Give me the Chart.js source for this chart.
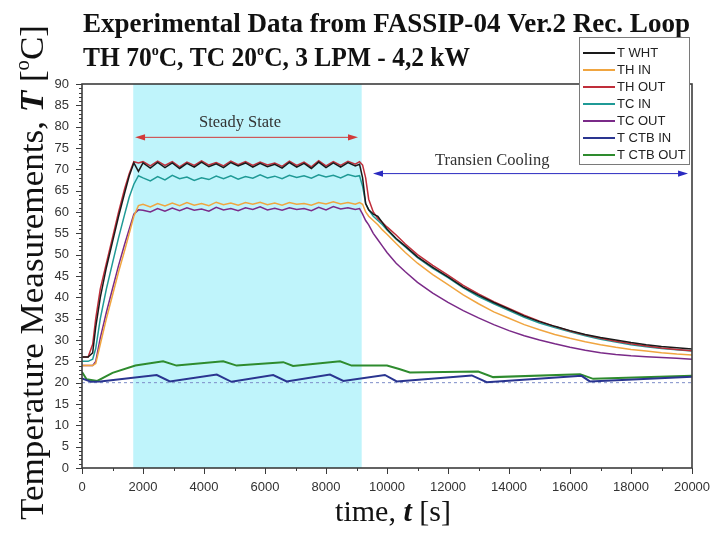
<!DOCTYPE html>
<html><head><meta charset="utf-8">
<script src="https://cdn.jsdelivr.net/npm/chart.js@4.4.0/dist/chart.umd.min.js"></script>
<style>html,body{margin:0;padding:0;background:#fff;}canvas{display:block;}</style>
</head><body>
<canvas id="c" width="712" height="535"></canvas>
<script>
// ---- data ----
const seriesNames = ['T WHT','TH IN','TH OUT','TC IN','TC OUT','T CTB IN','T CTB OUT'];
const tMain = [0,200,350,450,600,800,1000,1200,1400,1550,1700,1850,
  2000,2240,2480,2720,2960,3200,3440,3680,3920,4160,4400,4640,4880,5120,5360,5600,5840,6080,6320,6560,6800,7040,7280,7520,7760,8000,8240,8480,8720,8960,
  9100,9200,9300,9400,9550,9700,9850,10000,10300,10600,11000,11500,12000,12500,13000,13500,14000,14500,15000,15500,16000,16500,17000,17500,18000,18500,19000,19500,20000];
const tWht = [26,26,27,33,40,47,53,59,64.5,68.5,71.5,69.5,
  71.5,70.3,71.6,70.4,71.5,70.2,71.4,70.5,71.7,70.6,71.3,70.4,71.6,70.8,71.5,70.5,71.4,70.6,71.2,70.3,71.6,70.5,71.4,70.2,71.7,70.4,71.5,70.5,71.6,70.8,
  71.2,68,62,60.5,59.5,59,57.5,56,53.8,52,49.5,47,44.8,42.4,40.5,38.8,37.2,35.6,34.3,33.2,32.2,31.3,30.6,30,29.4,28.9,28.5,28.2,27.9];
const thIn = [24,24,24,24.5,29,35,40.5,46,51,55,59,61.5,
  61.8,61.2,62.0,61.4,62.1,61.5,62.2,61.6,62.0,61.5,62.3,61.7,62.1,61.6,62.2,61.8,62.3,61.7,62.1,61.6,62.2,61.8,62.0,61.6,62.2,61.9,62.4,61.9,62.2,61.8,
  62.2,61.8,60,59,58,57,55.8,54.8,52.6,50.5,48,45.3,43,40.6,38.5,36.6,35.1,33.6,32.4,31.3,30.4,29.6,28.9,28.3,27.8,27.4,27,26.7,26.5];
const thOut = [26,26,29,35,42,48,54,60,65.5,69,71.8,71.5,
  71.8,70.8,71.9,70.9,71.8,70.6,71.7,70.9,72.0,71.0,71.6,70.8,71.9,71.1,71.8,70.9,71.7,71.0,71.5,70.7,71.9,70.9,71.7,70.6,72.0,70.8,71.8,70.9,71.9,71.2,
  71.8,71,68,63,60,58.5,57.5,56.5,54.6,52.5,50,47.5,45.2,42.8,40.8,39,37.4,35.8,34.4,33.2,32.1,31.2,30.4,29.7,29.1,28.6,28.1,27.8,27.5];
const tcIn = [25,25,25.5,28,35,42,48,54,59.5,63.5,66.5,68.5,
  68.0,67.3,68.3,67.5,68.6,67.8,68.2,67.4,68.0,67.6,68.4,67.8,68.5,67.7,68.3,67.9,68.7,68.0,68.4,67.8,68.6,68.1,68.5,67.9,68.7,68.2,68.6,68.0,68.8,68.3,
  68.5,66,62,60.5,59,58,57,55.8,53.6,51.8,49.3,46.8,44.6,42.2,40.2,38.5,36.9,35.3,34,32.9,31.9,31,30.2,29.5,28.9,28.4,28,27.7,27.4];
const tcOut = [24,24,24,25,30.5,36.5,42,47.5,52.5,56,59.5,60.5,
  60.4,60.0,60.8,60.2,60.9,60.3,61.0,60.4,60.7,60.2,61.1,60.5,60.8,60.3,61.0,60.6,61.2,60.5,60.9,60.4,61.0,60.6,60.8,60.3,61.1,60.5,61.3,60.7,61.0,60.6,
  60.8,59.5,58,57,55,53.5,52,50.5,48,46,43.5,41,38.8,36.9,35.2,33.6,32.2,31,30,29.1,28.3,27.6,27,26.6,26.3,26.1,25.9,25.7,25.5];
const tCtbIn = [0,300,600,2450,2880,4420,4900,6270,6710,8130,8570,9930,10320,12780,13270,16380,16650,20000];
const ctbIn  = [21.0,20.2,20.3,21.8,20.3,21.9,20.2,21.8,20.3,21.9,20.4,21.8,20.3,21.7,20.1,21.6,20.3,21.4];
const tCtbOut = [0,150,500,1000,1750,2660,3100,4630,5070,6600,6920,8460,8840,10000,10400,10750,12990,13480,16330,16760,20000];
const ctbOut  = [22.5,20.8,20.4,22.3,24.0,25.0,24.0,25.0,24.0,24.8,23.9,25.0,24.0,24.0,23.2,22.4,22.6,21.3,22.0,20.9,21.6];
const steadyRange = [1680, 9170];     // shaded steady-state band (s)
const refLine = 20;                   // dashed reference temperature
const steadyArrow = [1740, 9050, 77.5];
const coolingArrow = [9540, 19870, 69];
const xTickStep = 2000, yTickStep = 5;

// ---- styles ----
const colors = ['#1a1a1a','#f0a540','#c02e3a','#1f9a96','#7a2a88','#2a3590','#2e8b2e'];
const pts = (xs, ys) => xs.map((x,i)=>({x:x, y:ys[i]}));
const dataSets = [
  pts(tMain,tWht), pts(tMain,thIn), pts(tMain,thOut), pts(tMain,tcIn), pts(tMain,tcOut),
  pts(tCtbIn,ctbIn), pts(tCtbOut,ctbOut)
];

const X = (c,v)=>c.scales.x.getPixelForValue(v);
const Y = (c,v)=>c.scales.y.getPixelForValue(v);
function seg(ctx,x1,y1,x2,y2){ctx.beginPath();ctx.moveTo(x1,y1);ctx.lineTo(x2,y2);ctx.stroke();}
function rich(ctx, parts){ let w=0; parts.forEach(p=>{ctx.font=p[1]; w+=ctx.measureText(p[0]).width;}); return w; }
function drawRich(ctx, parts, x, y, sx){
  ctx.save(); ctx.translate(x,y); ctx.scale(sx||1,1);
  let cx=0; parts.forEach(p=>{ctx.font=p[1]; ctx.fillText(p[0], cx, p[2]||0); cx+=ctx.measureText(p[0]).width;});
  ctx.restore();
}
function dblArrow(ctx,x1,x2,y,col){
  ctx.strokeStyle=col; ctx.fillStyle=col; ctx.lineWidth=1;
  seg(ctx,x1+4,y,x2-4,y);
  ctx.beginPath(); ctx.moveTo(x1,y); ctx.lineTo(x1+10,y-3.2); ctx.lineTo(x1+10,y+3.2); ctx.closePath(); ctx.fill();
  ctx.beginPath(); ctx.moveTo(x2,y); ctx.lineTo(x2-10,y-3.2); ctx.lineTo(x2-10,y+3.2); ctx.closePath(); ctx.fill();
}

const bgPlugin = {
  id:'bg',
  beforeDatasetsDraw(c){
    const ctx=c.ctx, a=c.chartArea;
    ctx.save();
    ctx.fillStyle='#bff4fb';
    const x1=X(c,steadyRange[0]), x2=X(c,steadyRange[1]);
    ctx.fillRect(x1,a.top,x2-x1,a.bottom-a.top);
    ctx.strokeStyle='#7d8cc8'; ctx.lineWidth=1; ctx.setLineDash([3,3]);
    const y=Y(c,refLine); seg(ctx,a.left,y,a.right,y);
    ctx.restore();
  }
};

const SERIF='"Liberation Serif","Times New Roman",serif';
const SANS='"Liberation Sans",Arial,sans-serif';
const overlay = {
  id:'overlay',
  afterDraw(c){
    const ctx=c.ctx, a=c.chartArea, sy=c.scales.y, sxs=c.scales.x;
    ctx.save();
    // ticks
    ctx.strokeStyle='#3a3a3a'; ctx.lineWidth=1;
    for(let v=sy.min; v<=sy.max; v++){ const y=Math.round(Y(c,v))+0.5; const L=(v%yTickStep===0)?6:3; seg(ctx,a.left-L,y,a.left,y); }
    for(let t=sxs.min; t<=sxs.max; t+=xTickStep/2){ const x=Math.round(X(c,t))+0.5; const L=(t%xTickStep===0)?6:3; seg(ctx,x,a.bottom,x,a.bottom+L); }
    // frame
    ctx.strokeStyle='#3c3c3c'; ctx.lineWidth=1.6;
    ctx.strokeRect(a.left,a.top,a.right-a.left,a.bottom-a.top);
    // annotations
    const ys=Y(c,steadyArrow[2]);
    dblArrow(ctx,X(c,steadyArrow[0]),X(c,steadyArrow[1]),ys,'#d23a3a');
    const yc=Y(c,coolingArrow[2]);
    dblArrow(ctx,X(c,coolingArrow[0]),X(c,coolingArrow[1]),yc,'#2a2ac0');
    ctx.fillStyle='#333'; ctx.textBaseline='alphabetic';
    ctx.font='16.5px '+SERIF; ctx.textAlign='center';
    ctx.fillText('Steady State', 240, 127);
    ctx.textAlign='left';
    ctx.fillText('Transien Cooling', 435, 165);
    // titles
    ctx.fillStyle='#111';
    const B='bold 27px '+SERIF, Bs='bold 15px '+SERIF;
    const t1=[['Experimental Data from FASSIP-04 Ver.2 Rec. Loop',B]];
    drawRich(ctx,t1,83,32,607/rich(ctx,t1));
    const t2=[['TH 70',B],['o',Bs,-11],['C, TC 20',B],['o',Bs,-11],['C, 3 LPM - 4,2 kW',B]];
    drawRich(ctx,t2,83,66,387/rich(ctx,t2));
    // y axis title (rotated)
    const R='34px '+SERIF, RI='bold italic 34px '+SERIF, Rs='20px '+SERIF;
    const yt=[['Temperature Measurements, ',R],['T',RI],[' [',R],['o',Rs,-14],['C]',R]];
    const ky=495/rich(ctx,yt);
    ctx.save(); ctx.translate(43,520); ctx.rotate(-Math.PI/2);
    drawRich(ctx,yt,0,0,ky); ctx.restore();
    // x axis title
    const X30='30px '+SERIF, XI='bold italic 30px '+SERIF;
    const xt=[['time, ',X30],['t',XI],[' [s]',X30]];
    const wx=rich(ctx,xt);
    drawRich(ctx,xt,393-wx/2,521,1);
    // legend
    const lx=579, ly=37, lw=110, lh=127;
    ctx.fillStyle='#fff'; ctx.fillRect(lx,ly,lw,lh);
    ctx.strokeStyle='#7a7a7a'; ctx.lineWidth=1; ctx.strokeRect(lx+0.5,ly+0.5,lw,lh);
    ctx.font='13px '+SANS; ctx.textBaseline='middle'; ctx.textAlign='left';
    c.data.datasets.forEach((d,i)=>{
      const yy=53+i*17;
      ctx.strokeStyle=d.borderColor; ctx.lineWidth=2; seg(ctx,583,yy,615,yy);
      ctx.fillStyle='#222'; ctx.fillText(d.label,617,yy+0.5);
    });
    ctx.restore();
  }
};

new Chart(document.getElementById('c'), {
  type:'line',
  data:{ datasets: dataSets.map((d,i)=>({
    label: seriesNames[i], data:d, borderColor:colors[i], backgroundColor:colors[i],
    borderWidth: i>=5?2:1.5, pointRadius:0, tension:0, fill:false
  }))},
  options:{
    responsive:false, animation:false,
    layout:{padding:{top:84,right:0,left:0,bottom:0}},
    plugins:{legend:{display:false}, tooltip:{enabled:false}, title:{display:false}},
    scales:{
      x:{type:'linear', min:0, max:20000,
        grid:{display:false, drawTicks:false}, border:{display:false},
        ticks:{stepSize:xTickStep, padding:12, color:'#333', font:{family:SANS,size:13}, maxRotation:0, callback:v=>String(v)},
        afterFit:s=>{s.height=67; s.paddingRight=20; s.paddingLeft=0;}},
      y:{type:'linear', min:0, max:90,
        grid:{display:false, drawTicks:false}, border:{display:false},
        ticks:{stepSize:yTickStep, padding:13, color:'#333', font:{family:SANS,size:13}},
        afterFit:s=>{s.width=82;}}
    }
  },
  plugins:[bgPlugin, overlay]
});
</script>
</body></html>
